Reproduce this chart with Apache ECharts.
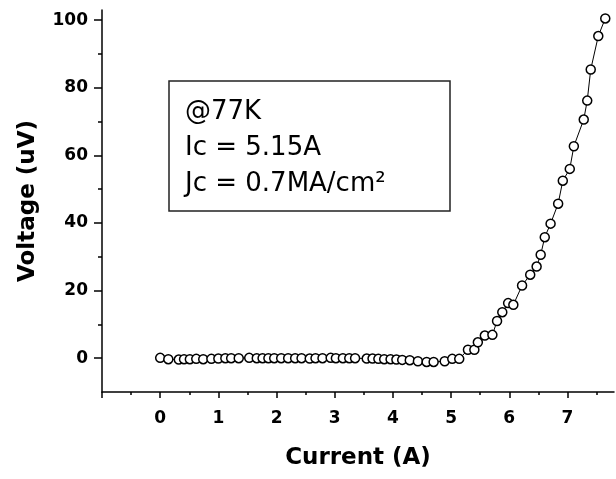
<!DOCTYPE html>
<html>
<head>
<meta charset="utf-8">
<script src="https://cdn.jsdelivr.net/npm/echarts@6/dist/echarts.min.js"></script>
<style>
  html, body { margin: 0; padding: 0; background: #fff; }
  #chart { width: 616px; height: 479px; }
</style>
</head>
<body>
<div id="chart"></div>
<script>
// I-V curve at 77K

var current = [0.00, 0.14, 0.32, 0.41, 0.51, 0.62, 0.74, 0.88, 1.00, 1.12, 1.22, 1.35, 1.53, 1.66, 1.76,
  1.86, 1.96, 2.08, 2.20, 2.32, 2.43, 2.57, 2.67, 2.79, 2.93, 3.02, 3.14, 3.25, 3.35, 3.55, 3.65,
  3.75, 3.85, 3.96, 4.06, 4.16, 4.29, 4.43, 4.58, 4.70, 4.89,
  5.02, 5.14, 5.29, 5.40, 5.46, 5.58, 5.71, 5.79, 5.88, 5.98, 6.07, 6.22, 6.36, 6.47, 6.54,
  6.61, 6.71, 6.84, 6.92, 7.04, 7.11, 7.28, 7.34, 7.40, 7.53, 7.65];
var voltage = [0.1, -0.3, -0.4, -0.3, -0.3, -0.2, -0.3, -0.2, -0.1, 0, 0, 0, 0.1, 0, 0,
  0, 0, 0, 0, 0, 0, -0.1, 0, 0, 0.1, 0, 0, 0, 0, -0.1, -0.1,
  -0.2, -0.3, -0.3, -0.4, -0.5, -0.6, -0.9, -1.1, -1.1, -0.9,
  -0.2, -0.2, 2.5, 2.5, 4.7, 6.7, 6.9, 11, 13.6, 16.3, 15.8, 21.5, 24.7, 27.1, 30.6,
  35.8, 39.8, 45.7, 52.5, 56, 62.7, 70.6, 76.2, 85.4, 95.3, 100.5];

var xLabels = [0, 1, 2, 3, 4, 5, 6, 7];
var xMajorTicks = [-1, 0, 1, 2, 3, 4, 5, 6, 7];
var xMinorTicks = [-0.5, 0.5, 1.5, 2.5, 3.5, 4.5, 5.5, 6.5, 7.5];
var yLabels = [0, 20, 40, 60, 80, 100];
var yMinorTicks = [10, 30, 50, 70, 90];

var noteLines = ['@77K', 'Ic = 5.15A', 'Jc = 0.7MA/cm²'];

var points = current.map(function (c, i) { return [c, voltage[i]]; });

var font = 'DejaVu Sans';
var myChart = echarts.init(document.getElementById('chart'));

var noteText = noteLines.map(function (t, i) {
  return {
    type: 'text',
    x: 185,
    y: 112 + i * 36,
    z: 20,
    style: { text: t, fontSize: 26, fontFamily: font, fill: '#000', verticalAlign: 'middle', align: 'left' }
  };
});

var option = {
  animation: false,
  grid: { left: 102, right: 2, top: 10, bottom: 87 },
  xAxis: [{
    type: 'value',
    min: -1, max: 7.8,
    name: 'Current (A)',
    nameLocation: 'middle',
    nameGap: 55,
    nameTextStyle: { color: '#000', fontSize: 23, fontWeight: 'bold', fontFamily: font },
    axisLine: { onZero: false, lineStyle: { color: '#000', width: 1.5 } },
    axisTick: { customValues: xMajorTicks, length: 6, lineStyle: { color: '#000', width: 1.5 } },
    axisLabel: { customValues: xLabels, margin: 18, color: '#000', fontSize: 17, fontWeight: 'bold', fontFamily: font },
    splitLine: { show: false }
  }, {
    type: 'value',
    position: 'bottom',
    min: -1, max: 7.8,
    axisLine: { show: false, onZero: false },
    axisTick: { customValues: xMinorTicks, length: 3, lineStyle: { color: '#000', width: 1.5 } },
    axisLabel: { show: false },
    splitLine: { show: false }
  }],
  yAxis: [{
    type: 'value',
    min: -10, max: 103,
    name: 'Voltage (uV)',
    nameLocation: 'middle',
    nameGap: 62,
    nameTextStyle: { color: '#000', fontSize: 23, fontWeight: 'bold', fontFamily: font },
    axisLine: { onZero: false, lineStyle: { color: '#000', width: 1.5 } },
    axisTick: { customValues: yLabels, length: 8, lineStyle: { color: '#000', width: 1.5 } },
    axisLabel: { customValues: yLabels, margin: 14, color: '#000', fontSize: 17, fontWeight: 'bold', fontFamily: font },
    splitLine: { show: false }
  }, {
    type: 'value',
    position: 'left',
    min: -10, max: 103,
    axisLine: { show: false, onZero: false },
    axisTick: { customValues: yMinorTicks, length: 4, lineStyle: { color: '#000', width: 1.5 } },
    axisLabel: { show: false },
    splitLine: { show: false }
  }],
  graphic: [
    {
      type: 'rect',
      shape: { x: 169, y: 81, width: 281, height: 130 },
      style: { fill: '#fff', stroke: '#222', lineWidth: 1.5 },
      z: 10
    }
  ].concat(noteText),
  series: [{
    type: 'line',
    data: points,
    showAllSymbol: true,
    symbol: 'circle',
    symbolSize: 9,
    itemStyle: { color: '#fff', borderColor: '#000', borderWidth: 1.5 },
    lineStyle: { color: '#000', width: 1 },
    z: 5
  }]
};
myChart.setOption(option);
</script>
</body>
</html>
